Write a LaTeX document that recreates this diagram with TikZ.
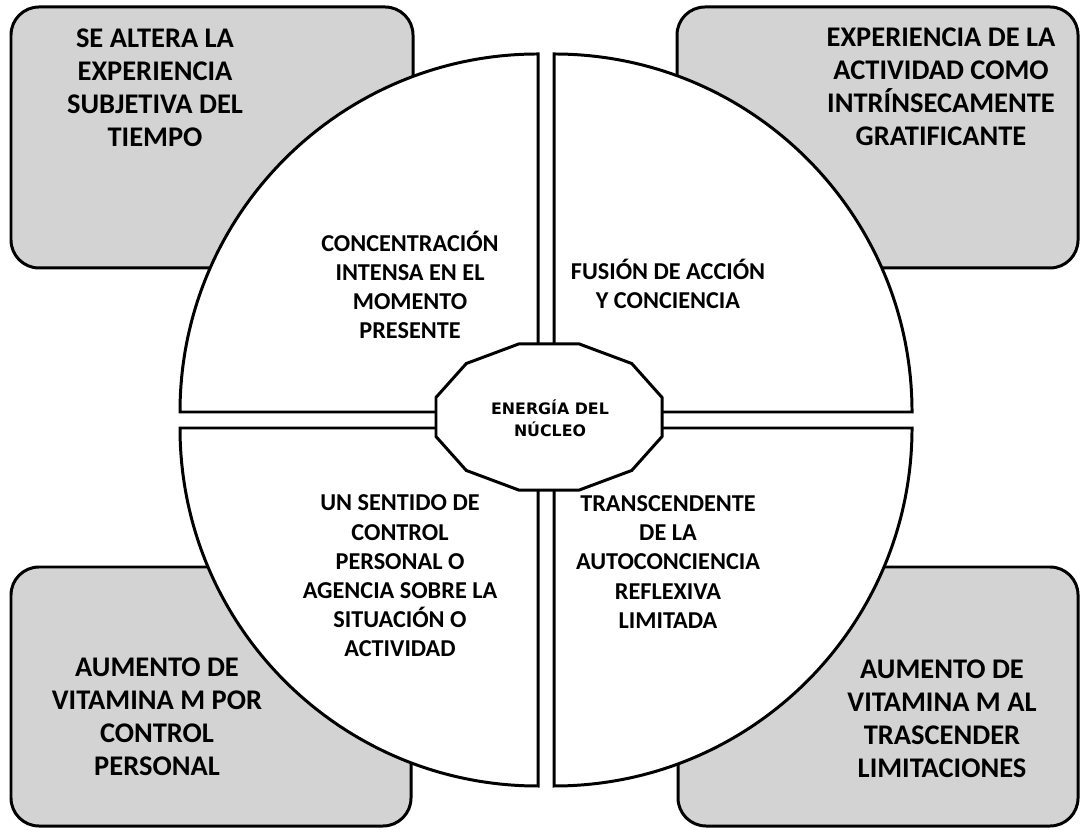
\documentclass[tikz,border=0pt]{standalone}
\usepackage{fontspec}
\newfontfamily\calib{Carlito}
\newfontfamily\hubfont{DejaVu Sans}
\usepackage{xcolor}
\definecolor{boxgray}{RGB}{211,211,211}
\begin{document}
\begin{tikzpicture}[scale=1]
    \tikzstyle{outerbox}=[draw,fill=boxgray,line width=0.85pt,rounded corners=0.28cm]
    \tikzstyle{quarter}=[draw,fill=white,line width=0.85pt]
    \tikzstyle{outertext}=[align=center,font=\calib\bfseries\fontsize{8.1}{9.4}\selectfont]
    \tikzstyle{innertext}=[align=center,font=\calib\bfseries\fontsize{6.9}{8.3}\selectfont]
    \tikzstyle{hubtext}=[align=center,font=\hubfont\bfseries\fontsize{4.5}{6.3}\selectfont]
    \useasboundingbox (0,0) rectangle (10.81,8.29);
    % gray boxes in the corners
    \draw[outerbox] (0.11,5.61) rectangle (4.13,8.22);
    \draw[outerbox] (6.77,5.61) rectangle (10.78,8.22);
    \draw[outerbox] (0.11,0.03) rectangle (4.11,2.62);
    \draw[outerbox] (6.78,0.03) rectangle (10.78,2.62);
    \node[outertext] (tiempo) at (1.55,7.41) {SE ALTERA LA\\EXPERIENCIA\\SUBJETIVA DEL\\TIEMPO};
    \node[outertext] (gratif) at (9.41,7.42) {EXPERIENCIA DE LA\\ACTIVIDAD COMO\\INTRÍNSECAMENTE\\GRATIFICANTE};
    \node[outertext] (vitcontrol) at (1.57,1.12) {AUMENTO DE\\VITAMINA M POR\\CONTROL\\PERSONAL};
    \node[outertext] (vitlimit) at (9.42,1.10) {AUMENTO DE\\VITAMINA M AL\\TRASCENDER\\LIMITACIONES};
    % the four quarters of the circle
    \draw[quarter] (5.38,4.17) -- ++(-3.58,0) arc[start angle=180,end angle=90,radius=3.58] -- cycle;
    \draw[quarter] (5.54,4.17) -- ++(3.58,0) arc[start angle=0,end angle=90,radius=3.58] -- cycle;
    \draw[quarter] (5.38,4.01) -- ++(-3.58,0) arc[start angle=180,end angle=270,radius=3.58] -- cycle;
    \draw[quarter] (5.54,4.01) -- ++(3.58,0) arc[start angle=0,end angle=-90,radius=3.58] -- cycle;
    \node[innertext] (concentr) at (4.10,5.44) {CONCENTRACIÓN\\INTENSA EN EL\\MOMENTO\\PRESENTE};
    \node[innertext] (fusion) at (6.68,5.45) {FUSIÓN DE ACCIÓN\\Y CONCIENCIA};
    \node[innertext] (sentido) at (4.00,2.53) {UN SENTIDO DE\\CONTROL\\PERSONAL O\\AGENCIA SOBRE LA\\SITUACIÓN O\\ACTIVIDAD};
    \node[innertext] (transc) at (6.68,2.67) {TRANSCENDENTE\\DE LA\\AUTOCONCIENCIA\\REFLEXIVA\\LIMITADA};
    % the core
    \draw[quarter] plot[samples at={15,45,...,345}] ({5.49+1.17*cos(\x)},{4.12+0.756*sin(\x)}) -- cycle;
    \node[hubtext] (nucleo) at (5.50,4.11) {ENERGÍA DEL\\NÚCLEO};
\end{tikzpicture}
\end{document}
